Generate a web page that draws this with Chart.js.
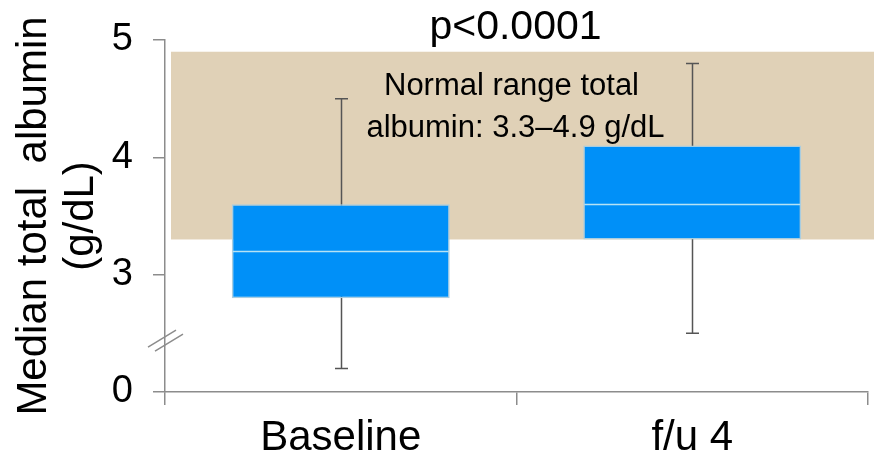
<!DOCTYPE html>
<html>
<head>
<meta charset="utf-8">
<script src="https://cdn.jsdelivr.net/npm/chart.js@4.4.1/dist/chart.umd.min.js"></script>
<style>
  html, body { margin: 0; padding: 0; background: #fff; }
  #wrap { width: 874px; height: 458px; }
</style>
</head>
<body>
<div id="wrap"><canvas id="grafico" width="874" height="458"></canvas></div>
<script>
// dados
const categorias = ['Baseline', 'f/u 4'];
const quartil1 = [2.8, 3.3];
const quartil3 = [3.6, 4.1];
const medianas = [3.2, 3.6];
const bigodeMin = [2.2, 2.5];
const bigodeMax = [4.5, 4.8];
const faixaNormal = [3.3, 4.9];
const ticksY = [2, 3, 4, 5];
const rotulosY = ['0', '3', '4', '5'];

const FONTE = "'Liberation Sans', Arial, sans-serif";
const CINZA = '#8c8c8c';

// faixa de referencia + bigodes (antes das caixas)
const fundoEBigodes = {
  id: 'fundoEBigodes',
  beforeDatasetsDraw(c) {
    const {ctx, chartArea, scales: {x, y}} = c;
    ctx.save();
    const yTop = y.getPixelForValue(faixaNormal[1]);
    const yBot = y.getPixelForValue(faixaNormal[0]);
    ctx.fillStyle = '#e0d1b7';
    ctx.fillRect(chartArea.left + 6, yTop, c.width - chartArea.left - 6, yBot - yTop);

    ctx.strokeStyle = '#555555';
    ctx.lineWidth = 1.5;
    categorias.forEach((cat, i) => {
      const xc = Math.round(x.getPixelForValue(i)) + 0.5;
      const yMax = y.getPixelForValue(bigodeMax[i]);
      const yMin = y.getPixelForValue(bigodeMin[i]);
      ctx.beginPath();
      ctx.moveTo(xc, yMax);
      ctx.lineTo(xc, yMin);
      ctx.moveTo(xc - 6.5, yMax);
      ctx.lineTo(xc + 6.5, yMax);
      ctx.moveTo(xc - 6.5, yMin);
      ctx.lineTo(xc + 6.5, yMin);
      ctx.stroke();
    });
    ctx.restore();
  }
};

// medianas, textos e marca de quebra do eixo
const extras = {
  id: 'extras',
  afterDatasetsDraw(c) {
    const {ctx, chartArea, scales: {x, y}} = c;
    ctx.save();
    ctx.strokeStyle = '#b6e2f4';
    ctx.lineWidth = 1.5;
    const meta = c.getDatasetMeta(0);
    categorias.forEach((cat, i) => {
      const bar = meta.data[i];
      const ym = Math.round(y.getPixelForValue(medianas[i])) + 0.5;
      ctx.beginPath();
      ctx.moveTo(bar.x - bar.width / 2 + 1, ym);
      ctx.lineTo(bar.x + bar.width / 2 - 1, ym);
      ctx.stroke();
    });

    // quebra do eixo
    const yq = y.getPixelForValue(2.45);
    const xq = chartArea.left;
    ctx.strokeStyle = CINZA;
    ctx.lineWidth = 1.5;
    ctx.beginPath();
    ctx.moveTo(xq - 17, yq + 8);
    ctx.lineTo(xq + 11, yq - 9);
    ctx.moveTo(xq - 10, yq + 12);
    ctx.lineTo(xq + 18, yq - 5);
    ctx.stroke();

    const xm = (chartArea.left + chartArea.right) / 2;
    ctx.fillStyle = '#000';
    ctx.textAlign = 'center';
    ctx.textBaseline = 'middle';
    ctx.font = '41px ' + FONTE;
    ctx.fillText('p<0.0001', xm - 1, 28);
    ctx.font = '31px ' + FONTE;
    ctx.fillText('Normal range total', xm - 5, 86);
    ctx.fillText('albumin: 3.3\u20134.9 g/dL', xm - 1, 128);
    ctx.restore();
  }
};

new Chart(document.getElementById('grafico'), {
  type: 'bar',
  data: {
    labels: categorias,
    datasets: [{
      data: categorias.map((c, i) => [quartil1[i], quartil3[i]]),
      backgroundColor: '#0090f8',
      borderColor: '#a9cde0',
      borderWidth: 1.5,
      borderSkipped: false,
      categoryPercentage: 1,
      barPercentage: 0.62
    }]
  },
  options: {
    responsive: false,
    animation: false,
    layout: { padding: { top: 40, right: 6, left: 0, bottom: 0 } },
    plugins: { legend: { display: false }, tooltip: { enabled: false } },
    scales: {
      x: {
        offset: true,
        afterFit(s) { s.height = 66; },
        grid: { display: true, offset: true, drawOnChartArea: false, color: CINZA, lineWidth: 1.5, tickLength: 13 },
        border: { color: CINZA, width: 1.5 },
        ticks: { color: '#000', font: { family: FONTE, size: 42 }, padding: 8 }
      },
      y: {
        min: 2,
        max: 5,
        afterFit(s) { s.width = 165; },
        afterBuildTicks(s) { s.ticks = ticksY.map(v => ({ value: v })); },
        grid: { display: true, drawOnChartArea: false, color: CINZA, lineWidth: 1.5, tickLength: 12 },
        border: { color: CINZA, width: 1.5 },
        ticks: {
          color: '#000',
          font: { family: FONTE, size: 38, lineHeight: 0.9 },
          padding: 20,
          callback: (v) => rotulosY[ticksY.indexOf(v)]
        },
        title: {
          display: true,
          text: ['Median total  albumin', '(g/dL)'],
          color: '#000',
          font: { family: FONTE, size: 42, lineHeight: 1.12 },
          padding: { top: 11 }
        }
      }
    }
  },
  plugins: [fundoEBigodes, extras]
});
</script>
</body>
</html>
